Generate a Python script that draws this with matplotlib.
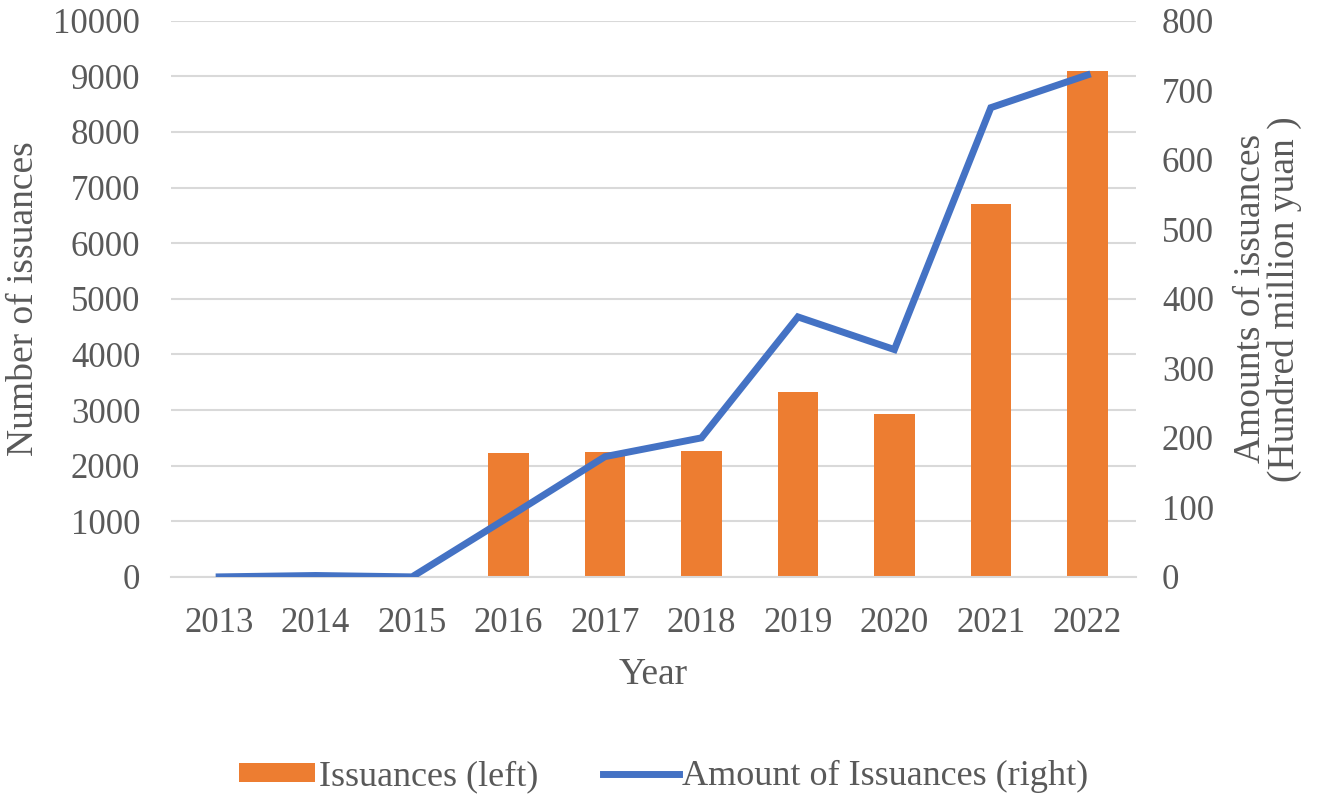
import matplotlib.pyplot as plt
import numpy as np

years = ['2013', '2014', '2015', '2016', '2017', '2018', '2019', '2020', '2021', '2022']
issuances = [0, 0, 0, 2230, 2250, 2270, 3330, 2930, 6700, 9100]
amounts = [0, 2, 0, 86, 173, 200, 374, 327, 675, 722]

plt.rcParams['font.family'] = ['Liberation Serif', 'DejaVu Serif']
grey = '#595959'

fig = plt.figure(figsize=(13.25, 7.99), dpi=100)
ax = fig.add_axes([0.129, 0.278, 0.728, 0.696])
ax2 = ax.twinx()

x = np.arange(len(years))
ax.bar(x, issuances, width=0.42, color='#ED7D31', label='Issuances (left)', zorder=2)
ax2.plot(x, amounts, color='#4472C4', linewidth=5, solid_joinstyle='miter',
         label='Amount of Issuances (right)', zorder=3)

ax.set_xlim(-0.5, len(years) - 0.5)
ax.set_ylim(0, 10000)
ax2.set_ylim(0, 800)
ax.set_yticks(np.arange(0, 10001, 1000))
ax2.set_yticks(np.arange(0, 801, 100))
ax.set_xticks(x)
ax.set_xticklabels(years)
ax.yaxis.grid(True, color='#D9D9D9', linewidth=1.5, zorder=0)
ax.set_axisbelow(True)

for a in (ax, ax2):
    for s in a.spines.values():
        s.set_visible(False)
    a.tick_params(length=0, labelsize=25, colors=grey, pad=22)
ax2.tick_params(pad=19)
ax.spines['bottom'].set_visible(True)
ax.spines['bottom'].set_color('#D9D9D9')
ax.spines['bottom'].set_linewidth(1.5)

ax.set_xlabel('Year', fontsize=27, color=grey, labelpad=12)
ax.set_ylabel('Number of issuances', fontsize=27, color=grey, labelpad=9)
ax2.set_ylabel('Amounts of issuances\n(Hundred million yuan )', fontsize=27,
               color=grey, labelpad=14, linespacing=0.95)

h1, l1 = ax.get_legend_handles_labels()
h2, l2 = ax2.get_legend_handles_labels()
fig.legend(h1 + h2, l1 + l2, loc='center', bbox_to_anchor=(0.501, 0.028),
           ncol=2, frameon=False, fontsize=26, labelcolor=grey,
           handlelength=2.1, handleheight=0.45, handletextpad=0.1, columnspacing=1.8)

fig.savefig('out.png', dpi=100)
